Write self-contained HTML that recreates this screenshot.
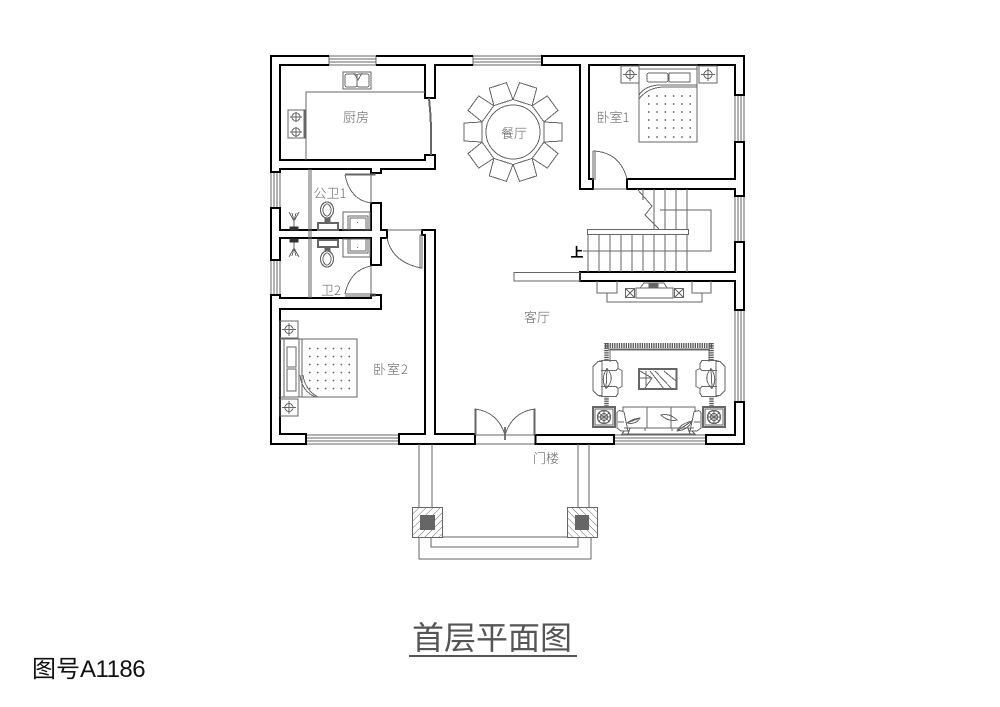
<!DOCTYPE html>
<html><head><meta charset="utf-8"><style>
html,body{margin:0;padding:0;background:#fff;width:1000px;height:707px;overflow:hidden}
svg{display:block}
text{font-family:"WenQuanYi Zen Hei","Noto Sans CJK SC","Liberation Sans",sans-serif}
.l{font-size:13px;fill:#666;text-anchor:middle;font-weight:300}
.g{fill:none;stroke:#666;stroke-width:1;shape-rendering:crispEdges}
.w{fill:none;stroke:#000;stroke-width:2;stroke-linejoin:miter;shape-rendering:crispEdges}
</style></head><body>
<svg width="1000" height="707" viewBox="0 0 1000 707" xmlns="http://www.w3.org/2000/svg">
<defs>
<pattern id="h1" width="5" height="5" patternUnits="userSpaceOnUse" patternTransform="rotate(45)"><line x1="0" y1="0" x2="0" y2="5" stroke="#666" stroke-width="1"/></pattern>
<pattern id="h2" width="5" height="5" patternUnits="userSpaceOnUse" patternTransform="rotate(-45)"><line x1="0" y1="0" x2="0" y2="5" stroke="#666" stroke-width="1"/></pattern>
<g id="chair" class="g"><path d="M31 -10L49 -9V9L31 10Z"/></g>
<g id="ns"><rect width="18" height="17" class="g" stroke-width="1.400"/><circle cx="9" cy="8.500" r="4" class="g"/><path d="M2 8.500H16M9 2V15" class="g"/></g>
<g id="chairL" class="g"><path d="M-10 -17L-15 -12V12L-10 17H-6V-17ZM-10 -17L-6 -18H8L10 -15V-10L8 -8H-7M-10 17L-6 18H8L10 15V10L8 8H-7"/><path d="M10 -10L14 -8V8L10 10"/><path d="M-1 -10Q-8 0 -2 10Q8 0 -1 -10ZM-1 -10L-2 10"/></g>
<g id="flower" class="g"><rect width="22" height="20" stroke-width="1.600"/><rect x="2" y="2" width="18" height="16"/><circle cx="11" cy="10" r="6.500" stroke-width="1.400"/><circle cx="11" cy="10" r="3.500"/><path d="M6 6L16 14M16 6L6 14M11 3V17M4 10H18"/></g>
<g id="tree" class="g"><path d="M0 18V6M0 9L-5 0M0 9L5 0M0 9L-2 1M0 9L2 1"/><path d="M-4 15H4V18H-4Z" fill="#333" stroke="#333"/></g>
</defs>

<!-- windows -->
<g class="g">
<path d="M329 56H376M329 59H376M329 62H376M329 65H376M329 56V65M376 56V65"/>
<path d="M473 56H542M473 59H542M473 62H542M473 65H542M473 56V65"/>
<path d="M271 172V208M274 172V208M277 172V208M280 172V208M271 172H280M271 208H280"/>
<path d="M271 260V295M274 260V295M277 260V295M280 260V295M271 260H280M271 295H280"/>
<path d="M735 95V142M738 95V142M741 95V142M744 95V142M735 95H744M735 142H744"/>
<path d="M735 196V242M738 196V242M741 196V242M744 196V242M735 196H744M735 242H744"/>
<path d="M735 310V402M738 310V402M741 310V402M744 310V402"/>
<path d="M306 435H399M306 438H399M306 441H399M306 444H399"/>
<path d="M614 435H706M614 438H706M614 441H706M614 444H706"/>
<path d="M475 435H535M475 444H535"/>
</g>

<!-- walls -->
<g class="w">
<path d="M329 56H271V172H280V169H371V173H381V169H435V155H425V160H280V65H329"/>
<path d="M376 56H473M376 65H425V98H435V65H473"/>
<path d="M271 208V260H280V238H371V265H381V238H387V230H381V203H371V230H280V208Z"/>
<path d="M271 295V444H306V434H280V309H381V295H371V298H280V295Z"/>
<path d="M399 444H475V434H435V230H422V235H425V434H399Z"/>
<rect x="535.500" y="435" width="78.500" height="9"/>
<path d="M706 435V444H744V402H735V435Z"/>
<path d="M744 310V242H735V272H580V281H735V310Z"/>
<path d="M542 65V56H744V95H735V65H589V179H593V189H580V65Z"/>
<path d="M627 189V179H735V142H744V196H735V189Z"/>
</g>

<!-- kitchen -->
<g class="g">
<path d="M425 92H306V160M309 169V298M311 169V298"/>
<rect x="343" y="72" width="28" height="17"/>
<rect x="345" y="74" width="12" height="13" rx="2"/><rect x="357" y="74" width="12" height="13" rx="2"/>
<path d="M354 73L358 80L362 73"/>
<rect x="288" y="110" width="17" height="28"/><path d="M304 110V138"/>
<circle cx="296" cy="117" r="4"/><circle cx="296" cy="132" r="4"/>
<path d="M290 117H302M296 112V122M290 132H302M296 127V137"/>
<path d="M429 98Q432 126 431 155" stroke-width="2"/>
</g>
<text x="356" y="122" class="l">厨房</text>

<!-- dining -->
<g transform="translate(513 132)" class="g">
<circle r="27"/>
<use href="#chair"/>
<use href="#chair" transform="rotate(36)"/>
<use href="#chair" transform="rotate(72)"/>
<use href="#chair" transform="rotate(108)"/>
<use href="#chair" transform="rotate(144)"/>
<use href="#chair" transform="rotate(180)"/>
<use href="#chair" transform="rotate(216)"/>
<use href="#chair" transform="rotate(252)"/>
<use href="#chair" transform="rotate(288)"/>
<use href="#chair" transform="rotate(324)"/>
</g>
<text x="514" y="138" class="l">餐厅</text>

<!-- bath -->
<g class="g">
<path d="M345 174H375V175H345M345 175Q350 200 371 203M371 175V203"/>
<path d="M345 296H375V294H345M345 294Q350 270 371 266M371 266V295"/>
<ellipse cx="327" cy="210" rx="6.500" ry="8" stroke-width="1.200"/><ellipse cx="327" cy="210" rx="4" ry="6"/>
<rect x="318" y="223" width="20" height="7" stroke-width="2"/><rect x="325" y="218" width="5" height="5" fill="#666"/>
<ellipse cx="327" cy="259" rx="6.500" ry="8" stroke-width="1.200"/><ellipse cx="327" cy="259" rx="4" ry="6"/>
<rect x="318" y="240" width="20" height="7" stroke-width="2"/><rect x="325" y="247" width="5" height="4" fill="#666"/>
<rect x="343" y="212" width="27" height="18"/><rect x="348" y="216" width="20" height="14"/><rect x="350" y="218" width="16" height="12"/>
<rect x="343" y="239" width="27" height="18"/><rect x="348" y="239" width="20" height="14"/><rect x="350" y="239" width="16" height="12"/>
</g>
<use href="#tree" transform="translate(294 212)"/>
<use href="#tree" transform="translate(294 257) scale(1 -1)"/>
<rect x="357" y="222" width="1" height="1" fill="#666"/>
<rect x="357" y="247" width="1" height="1" fill="#666"/>
<text x="330" y="198" class="l">公卫1</text>
<text x="331" y="295" class="l">卫2</text>

<!-- bedroom 2 door -->
<g class="g">
<path d="M387 238Q392 262 421 268M420 235H422V268H420ZM387 230H422"/>
</g>

<!-- bed 2 -->
<g class="g">
<rect x="280" y="339" width="77" height="58"/>
<path d="M284 339V397M299 339V397M302 339V397"/>
<rect x="287" y="347" width="9" height="20"/><rect x="287" y="369" width="9" height="22"/>
<path d="M300 375Q302 392 316 397M303 375Q305 390 318 397"/>
</g>
<use href="#ns" transform="translate(280 321)"/>
<use href="#ns" transform="translate(280 399)"/>
<path stroke="#555" stroke-width="1.500" stroke-dasharray="1.500 6.400" fill="none" d="M309 348.500H353M309 356.500H353M309 364.500H353M309 372.500H353M309 380.500H353M309 388.500H353"/>
<text x="391" y="374" class="l" letter-spacing="1">卧室2</text>

<!-- bed 1 -->
<g class="g">
<rect x="639" y="65" width="58" height="77"/>
<path d="M639 69H697M660 85H697"/>
<rect x="647" y="73" width="21" height="9" rx="2"/><rect x="669" y="73" width="21" height="9"/>
<path d="M639 95Q646 84 665 85M639 99Q648 87 665 87H697"/>
<path d="M593 151V180M595 151V180M593 151Q620 152 627 179M593 189H627"/>
</g>
<use href="#ns" transform="translate(621 66)"/>
<use href="#ns" transform="translate(699 66)"/>
<path stroke="#555" stroke-width="1.500" stroke-dasharray="1.500 6.800" fill="none" d="M648 96H692M648 104H692M648 112H692M648 120H692M648 128H692M648 137H692"/>
<text x="613" y="122" class="l">卧室1</text>

<!-- stairs -->
<g class="g">
<rect x="587.500" y="229.500" width="101" height="5"/>
<path d="M588 234V272M599 234V272M610 234V272M621 234V272M632 234V272M643 234V272M654 234V272M665 234V272M676 234V272M687 234V272"/>
<path d="M643 189V200M654 189V229M665 189V229M676 189V229M687 189V229"/>
<path d="M660 210H711V251H583"/>
<path d="M637 189L652 206L645 215L659 229"/>
<rect x="514" y="272.500" width="66" height="8.500"/>
</g>
<text x="577" y="257" font-size="13" font-weight="bold" text-anchor="middle" fill="#000">上</text>

<!-- tv cabinet -->
<g class="g">
<path d="M597 281V293H617V281M692 281V293H711V281M607 293V302H702V293"/>
<rect x="625.500" y="288.500" width="9" height="9"/><path d="M625.500 288.500L634.500 297.500M634.500 288.500L625.500 297.500"/>
<rect x="674.500" y="288.500" width="9" height="9"/><path d="M674.500 288.500L683.500 297.500M683.500 288.500L674.500 297.500"/>
<rect x="636" y="288" width="37" height="10"/>
<path d="M640 288L644 283H664L667 288"/>
<rect x="649" y="283" width="9" height="5" fill="#666"/>
</g>
<text x="537" y="322" class="l">客厅</text>

<!-- rug -->
<path d="M605 345.500H713" stroke="#555" stroke-width="5" stroke-dasharray="1.300 1" fill="none"/>
<path d="M606.500 343V361M711.500 343V361M606.500 396V407M711.500 396V407" stroke="#555" stroke-width="4.500" stroke-dasharray="1.300 1" fill="none"/>
<g class="g">
<path d="M610 362V350H709V362" stroke-width="1.200"/>
<path d="M608 349H710" stroke-width="1"/>
<!-- coffee table -->
<rect x="639" y="369" width="37.500" height="20" stroke-width="2.400"/>
<path d="M640 371L652 378L645 388M640 378H652M650 371L664 389M655 371L672 389M664 371L676 381M646 371V386"/>
</g>
<use href="#chairL" transform="translate(608 378.500)"/>
<use href="#chairL" transform="translate(710 378.500) scale(-1 1)"/>
<use href="#flower" transform="translate(593 407)"/>
<use href="#flower" transform="translate(703 407)"/>
<g class="g">
<path d="M623 411V407H695V411M647 407V428M671 407V428M624 428H694"/>
<path d="M617 413V428L621 431H628L624 412Q618 409 617 413ZM701 413V428L697 431H690L694 412Q700 409 701 413Z"/>
<path d="M618 422H624M694 422H700"/>
<path d="M627 423Q632 419 640 418Q636 425 627 423ZM627 423L640 418"/>
<path d="M661 415Q670 413 677 420Q668 422 661 415ZM677 431Q680 424 692 421Q688 430 677 431ZM677 431L692 421"/>
<path d="M624 431L622 434H695L692 431M630 428L628 434M688 428L690 434M645 428V431M672 428V431"/>
</g>

<!-- front door -->
<g class="g">
<path d="M475 435V409Q498 412 505 435M476 409V435"/>
<path d="M535 435V409Q512 412 505 435M534 409V435"/>
</g>
<path d="M505 427V440" stroke="#666" stroke-width="1.800"/>

<!-- porch -->
<g class="g">
<path d="M419 444V507M432 444V507M578 444V507M589 444V507"/>
<path d="M443 537H567M431 538V547H578V538M419 538V559H591V538"/>
<rect x="412.500" y="507.500" width="30" height="30" fill="url(#h1)"/>
<rect x="567.500" y="507.500" width="30" height="30" fill="url(#h2)"/>
</g>
<rect x="420" y="515" width="15" height="15" fill="#666"/>
<rect x="575" y="515" width="14" height="15" fill="#666"/>
<text x="546" y="463" class="l">门楼</text>

<!-- titles -->
<text x="412" y="649" font-size="32" fill="#555">首层平面图</text>
<rect x="409" y="655" width="168" height="2" fill="#555"/>
<text x="32" y="677" font-size="24" fill="#111">图号<tspan font-family="'Liberation Sans',sans-serif" letter-spacing="-0.500">A1186</tspan></text>
</svg>
</body></html>
